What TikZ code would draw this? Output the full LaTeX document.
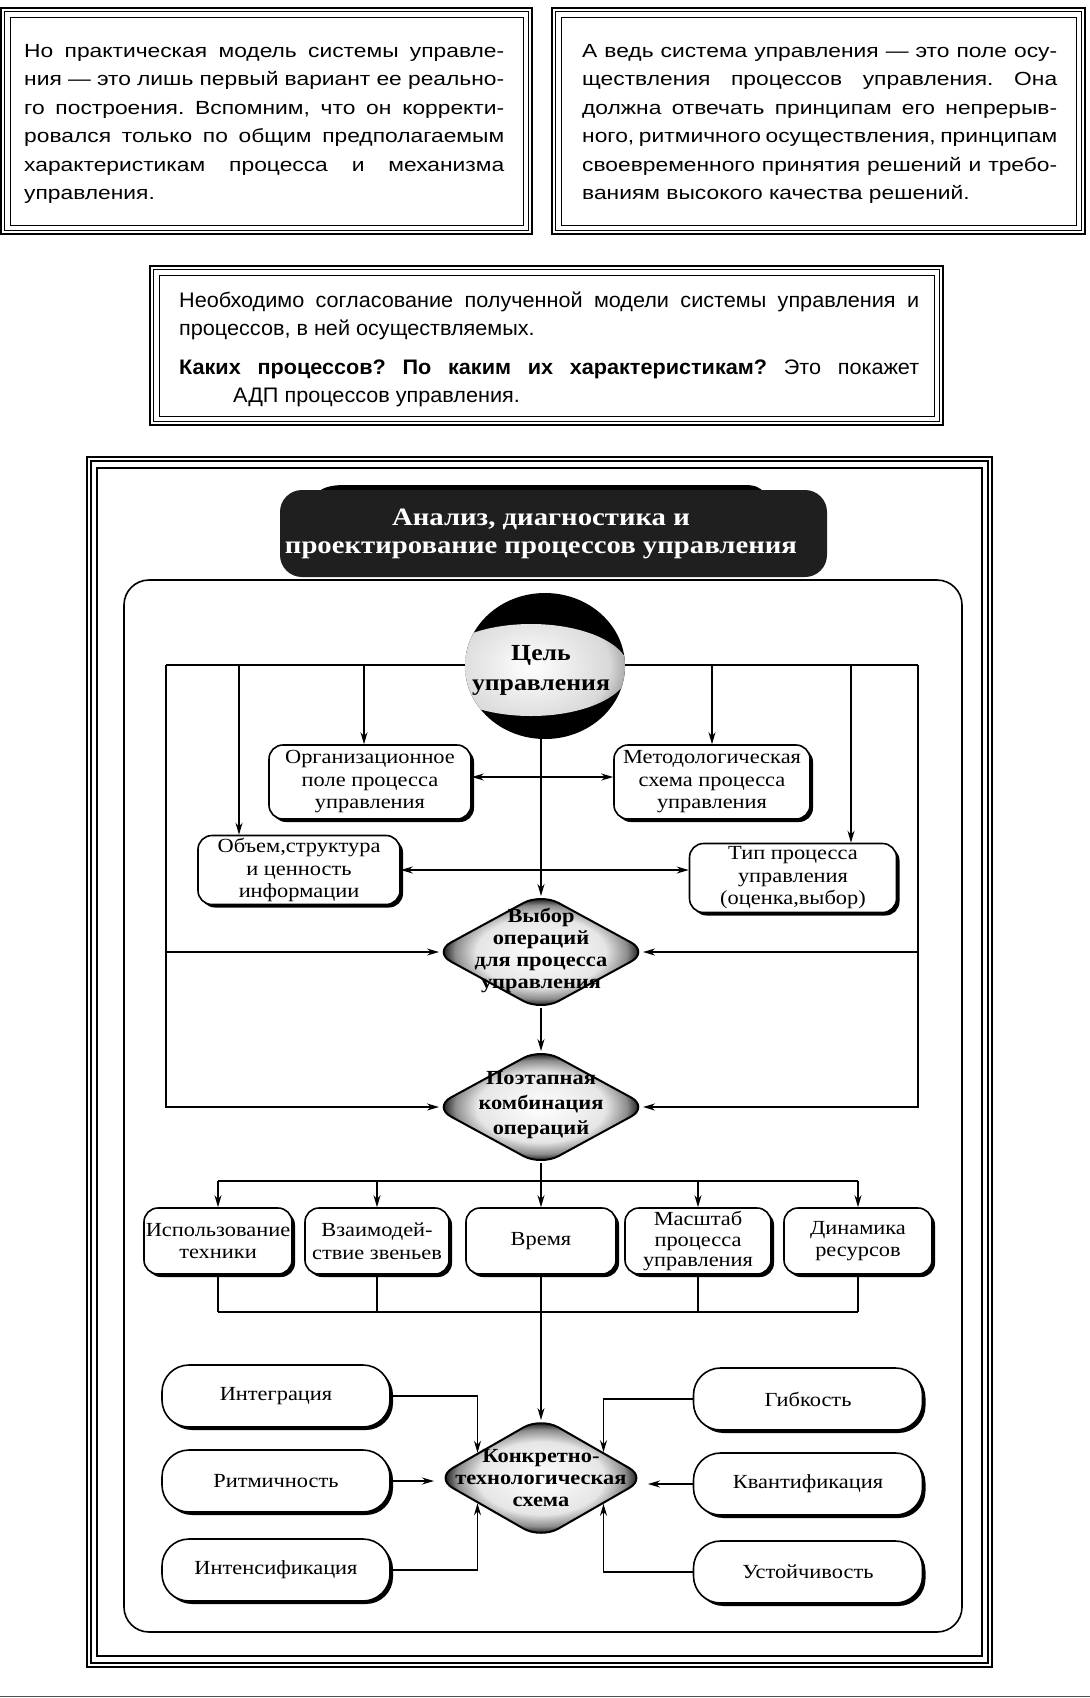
\documentclass[tikz,border=0pt]{standalone}
\usepackage{fontspec}
\setmainfont{Liberation Serif}
\newfontfamily\parafont[FakeStretch=1.2]{Liberation Sans}
\newfontfamily\midfont[FakeStretch=1.03]{Liberation Sans}
\newfontfamily\diafont[FakeStretch=1.12]{Liberation Serif}
\newfontfamily\titlefont[FakeStretch=1.15]{Liberation Serif}
\usetikzlibrary{shapes.geometric,arrows.meta,shadows,calc}
\frenchspacing

\pgfdeclareradialshading{diashade}{\pgfpoint{0bp}{0bp}}{color(0bp)=(white); color(15bp)=(white!90!black); color(20bp)=(black!45); color(23.5bp)=(black); color(50bp)=(black)}
\pgfdeclareradialshading{bandshade}{\pgfpoint{0bp}{0bp}}{color(0bp)=(white); color(20bp)=(white!85!black); color(28bp)=(black!50); color(34bp)=(black); color(50bp)=(black)}

\newcommand\myframe[4]{%
  \draw[line width=1.3pt] (#1,#2) rectangle (#3,#4);
  \draw[line width=1.3pt] ({#1+3.5},{#2+3.5}) rectangle ({#3-3.5},{#4-3.5});
  \draw[line width=1pt] ({#1+9},{#2+9}) rectangle ({#3-9},{#4-9});}

\begin{document}
\begin{tikzpicture}[x=1pt,y=-1pt,
  ln/.style={line width=1.4pt},
  arr/.style={line width=1.4pt,-{Stealth[length=12pt,width=7pt]}},
  darr/.style={line width=1.4pt,{Stealth[length=12pt,width=7pt]}-{Stealth[length=12pt,width=7pt]}},
  rbox/.style={draw, line width=1.6pt, fill=white, rounded corners=14pt, inner sep=0pt, align=center,
    font=\diafont\fontsize{20}{22.5}\selectfont,
    drop shadow={shadow xshift=3pt, shadow yshift=-3pt, opacity=1, fill=black}},
  pill/.style={rbox, rounded corners=27pt},
  diam/.style={diamond, minimum width=216pt, minimum height=118pt, inner sep=0pt, rounded corners=20pt,
    draw=black, line width=2pt, shading=diashade},
  diatext/.style={align=center, inner sep=0pt, font=\diafont\bfseries\fontsize{20}{22}\selectfont},
  para/.style={anchor=base west, inner sep=0pt, font=\parafont\fontsize{19}{23}\selectfont},
  midp/.style={anchor=base west, inner sep=0pt, font=\midfont\fontsize{21}{25}\selectfont},
]
\fill[white] (0,0) rectangle (1090,1698);
\useasboundingbox (0,0) rectangle (1090,1698);

% ---------- top text boxes ----------
\myframe{1}{8}{532}{234}
\myframe{552}{8}{1085}{234}
\myframe{150}{266}{943}{425}

\node[para] (tl1) at (24,57)    {\makebox[480pt][s]{Но практическая модель системы управле-}};
\node[para] (tl2) at (24,85.5)  {\makebox[480pt][s]{ния — это лишь первый вариант ее реально-}};
\node[para] (tl3) at (24,114)   {\makebox[480pt][s]{го построения. Вспомним, что он корректи-}};
\node[para] (tl4) at (24,142.5) {\makebox[480pt][s]{ровался только по общим предполагаемым}};
\node[para] (tl5) at (24,171)   {\makebox[480pt][s]{характеристикам процесса и механизма}};
\node[para] (tl6) at (24,199.5) {управления.};

\node[para] (tr1) at (582,57)    {\makebox[475pt][s]{А ведь система управления — это поле осу-}};
\node[para] (tr2) at (582,85.5)  {\makebox[475pt][s]{ществления процессов управления. Она}};
\node[para] (tr3) at (582,114)   {\makebox[475pt][s]{должна отвечать принципам его непрерыв-}};
\node[para] (tr4) at (582,142.5) {\makebox[475pt][s]{ного, ритмичного осуществления, принципам}};
\node[para] (tr5) at (582,171)   {\makebox[475pt][s]{своевременного принятия решений и требо-}};
\node[para] (tr6) at (582,199.5) {ваниям высокого качества решений.};

\node[midp] (m1) at (179,307) {\makebox[740pt][s]{Необходимо согласование полученной модели системы управления и}};
\node[midp] (m2) at (179,335) {процессов, в ней осуществляемых.};
\node[midp] (m3) at (179,374) {\makebox[740pt][s]{\textbf{Каких процессов? По каким их характеристикам?} Это покажет}};
\node[midp] (m4) at (233,402) {АДП процессов управления.};

% ---------- big frame ----------
\draw[line width=1.4pt] (87,457) rectangle (992,1667);
\draw[line width=1.8pt] (91,461) rectangle (988,1663);
\draw[line width=1.2pt] (97,468) rectangle (982,1656);
\draw[line width=1.6pt, rounded corners=25pt] (124,580) rectangle (962,1632);
\draw[line width=1pt, black!70] (0,1696) -- (1090,1696);

% title
\fill (318,492) .. controls (324,487) and (332,485) .. (345,485) -- (745,485) .. controls (756,485) and (760,488) .. (764,492) -- cycle;
\node[rectangle, rounded corners=22pt, fill=black!88, minimum width=547pt, minimum height=87pt, inner sep=0pt] (title) at (553.5,533.5) {};
\node[align=center, text=white, inner sep=0pt, font=\titlefont\bfseries\fontsize{25}{28}\selectfont] (titletext) at (541,534) {Анализ, диагностика и\\проектирование процессов управления};

% top distribution bus (behind the goal)
\coordinate (tl) at (166,665);
\coordinate (tr) at (918,665);
\draw[ln] (tl) -- (tr);

% goal
\node[ellipse, minimum width=160pt, minimum height=146pt, inner sep=0pt, fill=black,
  path picture={\shade[shading=bandshade] ($(path picture bounding box.center)+(-14,4)$) ellipse [x radius=98pt, y radius=46pt];}] (goal) at (545,666) {};
\node[align=center, inner sep=0pt, font=\diafont\bfseries\fontsize{23}{30}\selectfont] (goalT) at (541,670) {Цель\\управления};

% boxes
\node[rbox, minimum width=202pt, minimum height=74pt] (org) at (370,782) {Организационное\\поле процесса\\управления};
\node[rbox, minimum width=196pt, minimum height=74pt] (met) at (712,782) {Методологическая\\схема процесса\\управления};
\node[rbox, minimum width=202pt, minimum height=69pt] (obj) at (299,870) {Объем,структура\\и ценность\\информации};
\node[rbox, minimum width=207pt, minimum height=69pt] (typ) at (793,878) {Тип процесса\\управления\\(оценка,выбор)};

% diamonds
\node[diam] (vybor) at (541,952) {};
\node[diatext] (vyborT) at (541,950) {Выбор\\операций\\для процесса\\управления};
\node[diam] (poet) at (541,1107) {};
\node[diatext, font=\diafont\bfseries\fontsize{20}{25}\selectfont] (poetT) at (541,1105) {Поэтапная\\комбинация\\операций};

% taps from bus
\coordinate (t1) at (239,665);
\coordinate (t2) at (364,665);
\coordinate (t3) at (712,665);
\coordinate (t4) at (851,665);
\draw[arr] (t1) -- (t1 |- obj.north);
\draw[arr] (t2) -- (t2 |- org.north);
\draw[arr] (t3) -- (t3 |- met.north);
\draw[arr] (t4) -- (t4 |- typ.north);

\draw[arr, shorten >=-7pt] (tl) |- (poet.west);
\draw[arr, shorten >=-7pt] (tl |- vybor.west) -- (vybor.west);
\draw[arr, shorten >=-7pt] (tr) |- (poet.east);
\draw[arr, shorten >=-7pt] (tr |- vybor.east) -- (vybor.east);

\draw[arr, shorten >=-4pt] (goal.south -| vybor.north) -- (vybor.north);
\draw[darr] ([yshift=5pt]org.east) -- ([yshift=5pt]org.east -| met.west);
\draw[darr] (obj.east) -- (obj.east -| typ.west);
\draw[arr, shorten <=-4pt, shorten >=-4pt] (vybor.south) -- (poet.north);

% five boxes
\node[rbox, minimum width=148pt, minimum height=66pt] (use1) at (218,1241) {Использование\\техники};
\node[rbox, minimum width=144pt, minimum height=66pt] (vzai) at (377,1241) {Взаимодей-\\ствие звеньев};
\node[rbox, minimum width=150pt, minimum height=66pt] (vrem) at (541,1241) {Время};
\node[rbox, minimum width=146pt, minimum height=66pt, font=\diafont\fontsize{20}{20.5}\selectfont] (mas) at (698,1241) {Масштаб\\процесса\\управления};
\node[rbox, minimum width=148pt, minimum height=66pt] (din) at (858,1241) {Динамика\\ресурсов};

\coordinate (b1) at (541,1181);
\draw[ln, shorten <=-4pt] (poet.south) -- (b1);
\draw[ln] (use1.north |- b1) -- (din.north |- b1);
\draw[arr] (use1.north |- b1) -- (use1.north);
\draw[arr] (vzai.north |- b1) -- (vzai.north);
\draw[arr] (b1) -- (vrem.north);
\draw[arr] (mas.north |- b1) -- (mas.north);
\draw[arr] (din.north |- b1) -- (din.north);

\coordinate (b2) at (541,1312);
\draw[ln] (use1.south) -- (use1.south |- b2);
\draw[ln] (vzai.south) -- (vzai.south |- b2);
\draw[ln] (mas.south) -- (mas.south |- b2);
\draw[ln] (din.south) -- (din.south |- b2);
\draw[ln] (use1.south |- b2) -- (din.south |- b2);

% final diamond
\node[diam, minimum width=212pt, minimum height=122pt] (konk) at (541,1478) {};
\node[diatext] (konkT) at (541,1478) {Конкретно-\\технологическая\\схема};
\draw[arr, shorten >=-4pt] (vrem.south) -- (konk.north);

% side pills
\node[pill, minimum width=228pt, minimum height=62pt] (integ) at (276,1396) {Интеграция};
\node[pill, minimum width=228pt, minimum height=62pt] (ritm) at (276,1481) {Ритмичность};
\node[pill, minimum width=228pt, minimum height=62pt] (inten) at (276,1570) {Интенсификация};
\node[pill, minimum width=229pt, minimum height=62pt] (gibk) at (808,1399) {Гибкость};
\node[pill, minimum width=229pt, minimum height=62pt] (kvant) at (808,1484) {Квантификация};
\node[pill, minimum width=229pt, minimum height=62pt] (ustoi) at (808,1572) {Устойчивость};

\draw[arr] (integ.east) -| ([xshift=-10pt,yshift=-5.75pt]konk.north west);
\draw[arr] (inten.east) -| ([xshift=-10pt,yshift=5.75pt]konk.south west);
\draw[arr] (ritm.east) -- (ritm.east -| konk.west);
\draw[arr] (gibk.west) -| ([xshift=9pt,yshift=-5.2pt]konk.north east);
\draw[arr] (ustoi.west) -| ([xshift=9pt,yshift=5.2pt]konk.south east);
\draw[arr] (kvant.west) -- (kvant.west -| konk.east);
\end{tikzpicture}
\end{document}
